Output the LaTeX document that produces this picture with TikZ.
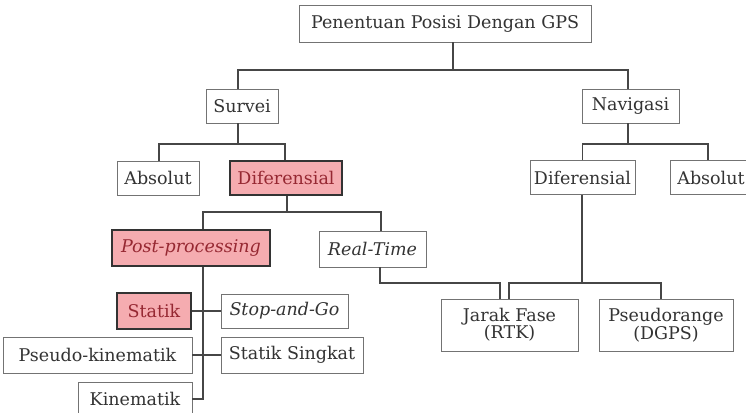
\documentclass[tikz,border=0pt]{standalone}
\usepackage{fontspec}
\setmainfont{DejaVu Serif}
\definecolor{boxpink}{RGB}{245,172,176}
\definecolor{darkred}{RGB}{150,40,50}
\definecolor{linegray}{RGB}{70,70,70}

\begin{document}
\begin{tikzpicture}[x=1pt, y=-1pt, every node/.style={font=\fontsize{17.5}{17}\selectfont, text=black!80},
    box/.style={draw=black!55, line width=0.8pt, inner sep=0pt, minimum height=34pt, fill=white, align=center},
    hilite/.style={box, draw=black!80, line width=2pt, fill=boxpink, text=darkred},
    conn/.style={draw=linegray, line width=1.4pt}]
      \useasboundingbox (0,0) rectangle (746,412);

      % Top level
      \node[box, minimum width=292pt, minimum height=37pt] (gps) at (445,23.5) {Penentuan Posisi Dengan GPS};
      \node[box, minimum width=72pt] (survei) at (242,106) {Survei};
      \node[box, minimum width=97pt] (navigasi) at (630.5,106) {Navigasi};

      % Second level
      \node[box, minimum width=82pt] (absL) at (158,178) {Absolut};
      \node[hilite, minimum width=112pt] (difL) at (286,178) {Diferensial};
      \node[box, minimum width=105pt] (difR) at (582.5,177.5) {Diferensial};
      \node[box, minimum width=81pt] (absR) at (711,177.5) {Absolut};

      % Survei branch
      \node[hilite, minimum width=158pt, minimum height=36pt] (post) at (191,248) {\itshape Post-processing};
      \node[box, minimum width=107pt, minimum height=36pt] (realtime) at (372.5,249) {\itshape Real-Time};
      \node[hilite, minimum width=74pt, minimum height=36pt] (statik) at (154,311) {Statik};
      \node[box, minimum width=127pt] (stopgo) at (284.5,311) {\itshape Stop-and-Go};
      \node[box, minimum width=189pt, minimum height=36pt] (pkin) at (97.5,355) {Pseudo-kinematik};
      \node[box, minimum width=142pt, minimum height=36pt] (singkat) at (292,355) {Statik Singkat};
      \node[box, minimum width=114pt] (kin) at (135,399) {Kinematik};

      % Navigasi branch
      \node[box, minimum width=137pt, minimum height=52pt] (jarak) at (509.5,325) {Jarak Fase\\(RTK)};
      \node[box, minimum width=134pt, minimum height=52pt] (pseudo) at (666,325) {Pseudorange\\(DGPS)};

      % Connectors
      \coordinate (j1) at (453,70);
      \draw[conn] (survei.north -| 238,0) |- (j1) -| (navigasi.north -| 628,0);
      \draw[conn] (j1) -- (gps.south -| j1);
      \coordinate (j2) at (238,144);
      \draw[conn] (absL.north -| 159,0) |- (j2) -| (difL.north -| 285,0);
      \draw[conn] (survei.south -| j2) -- (j2);
      \coordinate (j3) at (628,144);
      \draw[conn] (difR.north) |- (j3) -| (absR.north -| 708,0);
      \draw[conn] (navigasi.south -| j3) -- (j3);
      \coordinate (j4) at (287,212);
      \draw[conn] (post.north -| 203,0) |- (j4) -| (realtime.north -| 381,0);
      \draw[conn] (difL.south -| j4) -- (j4);
      \draw[conn] (post.south -| 203,0) |- (kin.east);
      \draw[conn] (statik) -- (stopgo);
      \draw[conn] (pkin) -- (singkat);
      \draw[conn] (realtime.south -| 380,0) |- (500,283) -- (jarak.north -| 500,0);
      \coordinate (j5) at (582,283);
      \draw[conn] (jarak.north -| 509,0) |- (j5) -| (pseudo.north -| 661,0);
      \draw[conn] (difR.south -| j5) -- (j5);
    \end{tikzpicture}
\end{document}
